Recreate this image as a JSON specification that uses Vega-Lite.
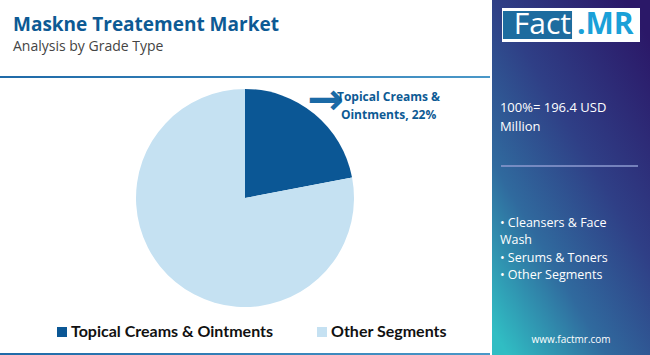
{
  "$schema": "https://vega.github.io/schema/vega-lite/v6.json",
  "padding": 0,
  "background": "white",
  "spacing": 2,
  "config": {"view": {"stroke": null}, "font": "Open Sans"},
  "datasets": {
    "share": [
      {"segment": "Topical Creams & Ointments", "value": 22, "label": "Topical Creams &\nOintments, 22%"},
      {"segment": "Other Segments", "value": 78}
    ],
    "logo": [{"part": "Fact", "suffix": ".MR"}],
    "total": [{"text": "100%= 196.4 USD\nMillion"}],
    "segments": [{"text": "• Cleansers & Face\nWash\n• Serums & Toners\n• Other Segments"}],
    "url": [{"text": "www.factmr.com"}]
  },
  "hconcat": [
    {
      "spacing": 0,
      "vconcat": [
        {
          "width": 490,
          "height": 16,
          "data": {"values": [{"k": 1}]},
          "mark": {"type": "rect", "fill": "white", "opacity": 0},
          "encoding": {}
        },
        {
          "title": {
            "text": "Maskne Treatement Market",
            "subtitle": "Analysis by Grade Type",
            "anchor": "start",
            "frame": "group",
            "dx": 13,
            "fontSize": 19,
            "fontWeight": "bold",
            "color": "#0d5a94",
            "subtitleFontSize": 14,
            "subtitleColor": "#444444",
            "subtitleFontWeight": "normal",
            "subtitlePadding": 5,
            "offset": 22
          },
          "width": 490,
          "height": 2,
          "data": {"values": [{"k": 1}]},
          "mark": {"type": "rect", "fill": {"gradient": "linear", "x1": 0, "y1": 0, "x2": 1, "y2": 0, "stops": [{"offset": 0, "color": "#1f6aa8"}, {"offset": 1, "color": "#4a98c8"}]}},
          "encoding": {}
        },
        {
          "width": 490,
          "height": 240,
          "data": {"name": "share"},
          "encoding": {
            "theta": {"field": "value", "type": "quantitative", "stack": true},
            "order": {"field": "value", "type": "quantitative", "sort": "ascending"}
          },
          "layer": [
            {
              "mark": {"type": "arc", "stroke": null, "outerRadius": 109},
              "encoding": {
                "color": {
                  "field": "segment",
                  "type": "nominal",
                  "scale": {"domain": ["Topical Creams & Ointments", "Other Segments"], "range": ["#0b5795", "#c5e1f2"]},
                  "legend": {
                    "orient": "none",
                    "legendX": 54,
                    "legendY": 324,
                    "direction": "horizontal",
                    "title": null,
                    "symbolType": "square",
                    "symbolSize": 100,
                    "symbolStrokeWidth": 0,
                    "labelFont": "Lato",
                    "labelFontSize": 16,
                    "labelFontWeight": "bold",
                    "labelColor": "#111111",
                    "labelOffset": 1,
                    "columnPadding": 40,
                    "labelLimit": 400
                  }
                }
              }
            },
            {
              "transform": [{"filter": "datum.segment == 'Topical Creams & Ointments'"}],
              "mark": {"type": "text", "radius": 126, "fontSize": 44, "font": "DejaVu Sans", "fontWeight": "bold", "color": "#1b6aa6", "align": "center", "baseline": "middle", "text": "→"},
              "encoding": {}
            },
            {
              "transform": [{"filter": "datum.segment == 'Topical Creams & Ointments'"}],
              "mark": {"type": "text", "radius": 175, "dx": 32, "dy": 34, "fontSize": 12, "fontWeight": "bold", "color": "#0d5a94", "align": "center", "baseline": "middle", "lineBreak": "\n", "lineHeight": 18},
              "encoding": {"text": {"field": "label"}}
            }
          ]
        },
        {
          "width": 490,
          "height": 35,
          "data": {"values": [{"k": 1}]},
          "mark": {"type": "rect", "fill": "white", "opacity": 0},
          "encoding": {}
        },
        {
          "width": 490,
          "height": 2,
          "data": {"values": [{"k": 1}]},
          "mark": {"type": "rect", "fill": {"gradient": "linear", "x1": 0, "y1": 0, "x2": 1, "y2": 0, "stops": [{"offset": 0, "color": "#1f6aa8"}, {"offset": 1, "color": "#4a98c8"}]}},
          "encoding": {}
        }
      ]
    },
    {
      "width": 158,
      "height": 355,
      "layer": [
        {
          "data": {"values": [{"k": 1}]},
          "mark": {"type": "rect", "fill": {"gradient": "linear", "x1": 0.85, "y1": 0, "x2": 0.1, "y2": 1, "stops": [{"offset": 0, "color": "#2b1868"}, {"offset": 0.4, "color": "#2f3f86"}, {"offset": 0.7, "color": "#306a9e"}, {"offset": 1, "color": "#30bdc3"}]}},
          "encoding": {}
        },
        {
          "data": {"name": "logo"},
          "mark": {"type": "point", "shape": "M-1,-0.246H1V0.246H-1Z", "size": 19044, "filled": true, "fill": "white", "opacity": 1, "strokeWidth": 0},
          "encoding": {"y": {"datum": 0.0704, "type": "quantitative", "scale": {"domain": [0, 1], "reverse": true}, "axis": null}}
        },
        {
          "data": {"name": "logo"},
          "mark": {"type": "point", "shape": "M-0.986,-0.203H0.015V0.203H-0.986Z", "size": 19044, "filled": true, "fill": "#1d6c9f", "opacity": 1, "strokeWidth": 0},
          "encoding": {"y": {"datum": 0.0704, "type": "quantitative"}}
        },
        {
          "data": {"name": "logo"},
          "mark": {"type": "text", "align": "right", "baseline": "middle", "fontSize": 30, "color": "white"},
          "encoding": {"y": {"datum": 0.0704, "type": "quantitative"}, "text": {"field": "part"}}
        },
        {
          "data": {"name": "logo"},
          "mark": {"type": "text", "align": "left", "baseline": "middle", "fontSize": 30, "fontWeight": "bold", "color": "#1aa0d8", "dx": 6},
          "encoding": {"y": {"datum": 0.0704, "type": "quantitative"}, "text": {"field": "suffix"}}
        },
        {
          "data": {"name": "total"},
          "mark": {"type": "text", "align": "left", "baseline": "middle", "fontSize": 13, "color": "white", "lineBreak": "\n", "lineHeight": 19},
          "encoding": {
            "x": {"datum": 0.05, "type": "quantitative", "scale": {"domain": [0, 1]}, "axis": null},
            "y": {"datum": 0.3042, "type": "quantitative"},
            "text": {"field": "text"}
          }
        },
        {
          "data": {"values": [{"k": 1}]},
          "mark": {"type": "rule", "color": "#8e9bd0", "strokeWidth": 1.5},
          "encoding": {
            "x": {"datum": 0.057, "type": "quantitative"},
            "x2": {"datum": 0.924},
            "y": {"datum": 0.4676, "type": "quantitative"}
          }
        },
        {
          "data": {"name": "segments"},
          "mark": {"type": "text", "align": "left", "baseline": "middle", "fontSize": 12.5, "color": "white", "lineBreak": "\n", "lineHeight": 17.5},
          "encoding": {
            "x": {"datum": 0.05, "type": "quantitative"},
            "y": {"datum": 0.628, "type": "quantitative"},
            "text": {"field": "text"}
          }
        },
        {
          "data": {"name": "url"},
          "mark": {"type": "text", "align": "center", "baseline": "middle", "fontSize": 10, "color": "white"},
          "encoding": {
            "y": {"datum": 0.958, "type": "quantitative"},
            "text": {"field": "text"}
          }
        }
      ]
    }
  ]
}
